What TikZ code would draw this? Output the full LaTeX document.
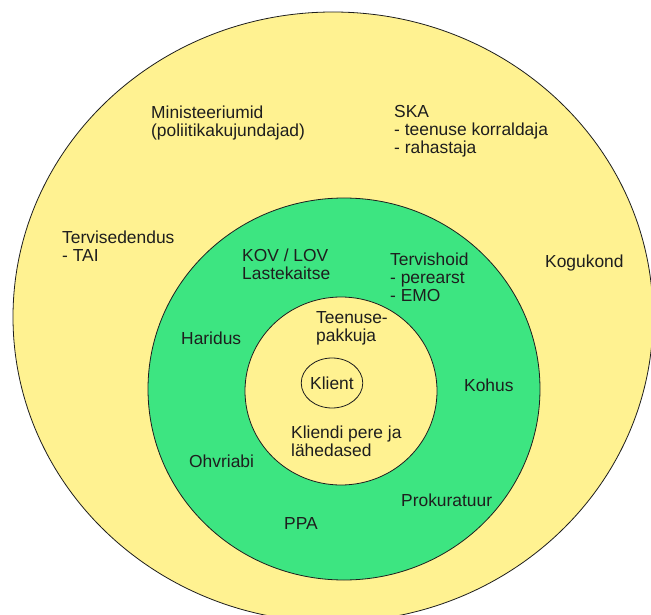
\documentclass[tikz,border=0pt]{standalone}
\usepackage{fontspec}
\setmainfont{Liberation Sans}
\usepackage{xcolor}
\usetikzlibrary{shapes.geometric}

\definecolor{ringyellow}{HTML}{FFF291}
\definecolor{ringgreen}{HTML}{3DE581}
\definecolor{inkgray}{HTML}{1E1E1E}

\begin{document}
\begin{tikzpicture}[
  x=1pt, y=-1pt,
  ring/.style={draw=inkgray, line width=0.8pt, ellipse, inner sep=0pt},
  label/.style={anchor=north west, inner sep=0pt, align=left, text=inkgray,
                font=\fontsize{17.4}{18}\selectfont}
]
\useasboundingbox (0,0) rectangle (651,615);

\node[ring, fill=ringyellow, minimum width=640, minimum height=610] (kogukondring) at (333,317) {};
\node[ring, fill=ringgreen, minimum width=392, minimum height=382] (asutusedring) at (344,389) {};
\node[ring, fill=ringyellow, minimum width=192, minimum height=188] (pakkujaring) at (341,391) {};
\node[ring, fill=ringyellow, minimum width=59, minimum height=50,
      font=\fontsize{17.4}{18}\selectfont, text=inkgray] (klient) at (332,383) {Klient};

\node[label] (ministeeriumid) at (151,105.5) {Ministeeriumid\\(poliitikakujundajad)};
\node[label] (ska) at (394,105.5) {SKA\\- teenuse korraldaja\\- rahastaja};
\node[label] (tervisedendus) at (62,230.5) {Tervisedendus\\- TAI};
\node[label] (kogukond) at (545,254.5) {Kogukond};
\node[label] (kov) at (242,248.5) {KOV / LOV\\Lastekaitse};
\node[label] (tervishoid) at (390,252.5) {Tervishoid\\- perearst\\- EMO};
\node[label] (haridus) at (181,331.5) {Haridus};
\node[label] (kohus) at (464,378.5) {Kohus};
\node[label] (ohvriabi) at (189,454.5) {Ohvriabi};
\node[label] (prokuratuur) at (401,493.5) {Prokuratuur};
\node[label] (ppa) at (284,517.5) {PPA};
\node[label] (teenusepakkuja) at (316,311.5) {Teenuse-\\pakkuja};
\node[label] (pere) at (291,425.5) {Kliendi pere ja\\lähedased};
\end{tikzpicture}
\end{document}
